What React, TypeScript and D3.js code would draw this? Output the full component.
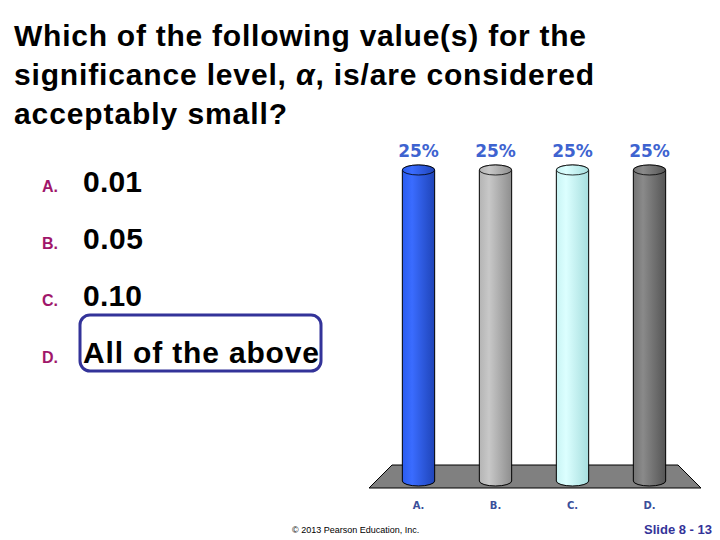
import React from "react";
import * as d3 from "d3";

const categories = ["A.", "B.", "C.", "D."];
const values = [25, 25, 25, 25];
const answers = ["0.01", "0.05", "0.10", "All of the above"];
const answerWidths = [59, 60, 59, 236];
const titleLines = [
  ["Which of the following value(s) for the"],
  ["significance level, ", "α", ", is/are considered"],
  ["acceptably small?"],
];
const titleWidths = [572, 580, 273];
const barColors = [
  ["#3a6cff", "#2a5cf0", "#1f44b8"],
  ["#c8c8c8", "#b4b4b4", "#8e8e8e"],
  ["#dcffff", "#c8f4f4", "#a6dede"],
  ["#8a8a8a", "#747474", "#555555"],
];

const font = "Liberation Sans, Arial, sans-serif";

export default function App() {
  const W = 720, H = 540;
  const x = d3.scaleBand<string>().domain(categories).range([380, 688]).paddingInner(0.58).paddingOuter(0.29);
  const y = d3.scaleLinear().domain([0, 25]).range([481, 170]);
  const rx = x.bandwidth() / 2;
  const ry = 5;
  return (
    <svg width={W} height={H} style={{ position: "absolute", left: 0, top: 0, background: "#fff" }}>
      <defs>
        {barColors.map((c, i) => (
          <linearGradient key={i} id={`g${i}`} x1="0" x2="1" y1="0" y2="0">
            <stop offset="0" stopColor={c[1]} />
            <stop offset="0.3" stopColor={c[0]} />
            <stop offset="1" stopColor={c[2]} />
          </linearGradient>
        ))}
      </defs>
      {titleLines.map((parts, i) => (
        <text key={i} x={14} y={46 + i * 39} fontFamily={font} fontSize={30} fontWeight="bold" fill="#000"
          textLength={titleWidths[i]} lengthAdjust="spacing">
          {parts.map((p, j) => (
            <tspan key={j} fontStyle={p === "α" ? "italic" : "normal"}>{p}</tspan>
          ))}
        </text>
      ))}
      {answers.map((a, i) => (
        <g key={i}>
          <text x={42} y={192 + i * 57} fontFamily={font} fontSize={16} fontWeight="bold" fill="#a0166a">{categories[i]}</text>
          <text x={83} y={192 + i * 57} fontFamily={font} fontSize={30} fontWeight="bold" fill="#000"
            textLength={answerWidths[i]} lengthAdjust="spacing">{a}</text>
        </g>
      ))}
      <rect x={80} y={315} width={241} height={56} rx={10} ry={10} fill="none" stroke="#333399" strokeWidth={3} />
      {/* floor */}
      <path d="M392,465 L678,465 L701,488 L369,488 Z" fill="#808080" stroke="#000" strokeWidth={1} />
      {categories.map((c, i) => {
        const x0 = x(c)!;
        const cx = x0 + rx;
        const top = y(values[i]);
        const bot = y(0);
        return (
          <g key={c}>
            <path
              d={`M${x0},${top} L${x0},${bot} A${rx},${ry} 0 0 0 ${x0 + 2 * rx},${bot} L${x0 + 2 * rx},${top} A${rx},${ry} 0 0 0 ${x0},${top} Z`}
              fill={`url(#g${i})`}
              stroke="#000"
              strokeWidth={1}
            />
            <ellipse cx={cx} cy={top} rx={rx} ry={ry} fill={`url(#g${i})`} stroke="#000" strokeWidth={0.8} />
            <text x={cx} y={157} textAnchor="middle" fontFamily="DejaVu Sans, sans-serif" fontSize={17} fontWeight="bold" fill="#3e63d0">{values[i]}%</text>
            <text x={cx} y={509} textAnchor="middle" fontFamily="DejaVu Sans, sans-serif" fontSize={10} fontWeight="bold" fill="#3a4f9a">{c}</text>
          </g>
        );
      })}
      <text x={292} y={533} fontFamily={font} fontSize={9} fill="#000">© 2013 Pearson Education, Inc.</text>
      <text x={712} y={534} textAnchor="end" fontFamily={font} fontSize={13} fontWeight="bold" fill="#333399">Slide 8 - 13</text>
    </svg>
  );
}
